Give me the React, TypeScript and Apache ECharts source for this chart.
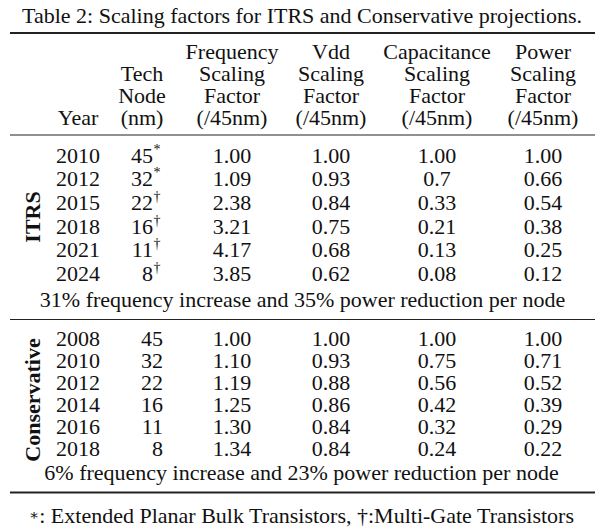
import React, { useEffect, useRef } from "react";
import * as echarts from "echarts";

const titleText = "Table 2: Scaling factors for ITRS and Conservative projections.";
const headerColumns = [
  ["Year"],
  ["Tech", "Node", "(nm)"],
  ["Frequency", "Scaling", "Factor", "(/45nm)"],
  ["Vdd", "Scaling", "Factor", "(/45nm)"],
  ["Capacitance", "Scaling", "Factor", "(/45nm)"],
  ["Power", "Scaling", "Factor", "(/45nm)"],
];

const itrsYears = ["2010", "2012", "2015", "2018", "2021", "2024"];
const itrsNodes = ["45", "32", "22", "16", "11", "8"];
const itrsMarks = ["*", "*", "†", "†", "†", "†"];
const itrsFreq = ["1.00", "1.09", "2.38", "3.21", "4.17", "3.85"];
const itrsVdd = ["1.00", "0.93", "0.84", "0.75", "0.68", "0.62"];
const itrsCap = ["1.00", "0.7", "0.33", "0.21", "0.13", "0.08"];
const itrsPow = ["1.00", "0.66", "0.54", "0.38", "0.25", "0.12"];
const itrsNote = "31% frequency increase and 35% power reduction per node";

const consYears = ["2008", "2010", "2012", "2014", "2016", "2018"];
const consNodes = ["45", "32", "22", "16", "11", "8"];
const consFreq = ["1.00", "1.10", "1.19", "1.25", "1.30", "1.34"];
const consVdd = ["1.00", "0.93", "0.88", "0.86", "0.84", "0.84"];
const consCap = ["1.00", "0.75", "0.56", "0.42", "0.32", "0.24"];
const consPow = ["1.00", "0.71", "0.52", "0.39", "0.29", "0.22"];
const consNote = "6% frequency increase and 23% power reduction per node";

const footnoteStar = "∗";
const footnoteRest = ": Extended Planar Bulk Transistors, †:Multi-Gate Transistors";

const FONT = "Liberation Serif";
const FS = 22;
const INK = "#111";

function txt(text: string, x: number, y: number, opts: any = {}) {
  return {
    type: "text",
    x,
    y,
    rotation: opts.rotation || 0,
    style: {
      text,
      x: 0,
      y: 0,
      fill: INK,
      fontFamily: FONT,
      fontSize: opts.fontSize || FS,
      fontWeight: opts.fontWeight || "normal",
      lineHeight: opts.lineHeight,
      textAlign: opts.align || "center",
      textVerticalAlign: "middle",
      verticalAlign: "middle",
      rich: opts.rich,
    },
  };
}

// A column of cells as one multi-line text block; centre of block at yMid
function block(lines: string[], x: number, firstY: number, step: number, opts: any = {}) {
  const yMid = firstY + ((lines.length - 1) * step) / 2;
  return txt(lines.join("\n"), x, yMid, { ...opts, lineHeight: step });
}

function hline(y: number, w: number) {
  return {
    type: "line",
    shape: { x1: 10, y1: y, x2: 595, y2: y },
    style: { stroke: "#222", lineWidth: w },
  };
}

export default function App() {
  const ref = useRef<HTMLDivElement>(null);
  useEffect(() => {
    document.body.style.margin = "0";
    const chart = echarts.init(ref.current!, null, { renderer: "svg" });
    const colX = [78, 142, 232, 331, 437, 543];
    const els: any[] = [];

    els.push(txt(titleText, 302, 15));
    els.push(hline(33, 2));

    const headerLastY = 117;
    const headerStep = 22;
    headerColumns.forEach((lines, c) => {
      const first = headerLastY - (lines.length - 1) * headerStep;
      els.push(block(lines, colX[c], first, headerStep));
    });
    els.push(hline(135, 1.2));

    const itrsTop = 155;
    const itrsStep = 23.7;
    els.push(block(itrsYears, colX[0], itrsTop, itrsStep));
    els.push(block(itrsNodes, 153, itrsTop, itrsStep, { align: "right" }));
    els.push(block(itrsMarks, 153.5, itrsTop - 6, itrsStep, { align: "left", fontSize: 14 }));
    els.push(block(itrsFreq, colX[2], itrsTop, itrsStep));
    els.push(block(itrsVdd, colX[3], itrsTop, itrsStep));
    els.push(block(itrsCap, colX[4], itrsTop, itrsStep));
    els.push(block(itrsPow, colX[5], itrsTop, itrsStep));
    els.push(txt("ITRS", 32, 217, { rotation: Math.PI / 2, fontWeight: "bold" }));
    els.push(txt(itrsNote, 302.5, 299.5));
    els.push(hline(319.5, 1.2));

    const consTop = 338;
    const consStep = 22;
    els.push(block(consYears, colX[0], consTop, consStep));
    els.push(block(consNodes, 163, consTop, consStep, { align: "right" }));
    els.push(block(consFreq, colX[2], consTop, consStep));
    els.push(block(consVdd, colX[3], consTop, consStep));
    els.push(block(consCap, colX[4], consTop, consStep));
    els.push(block(consPow, colX[5], consTop, consStep));
    els.push(txt("Conservative", 32, 400, { rotation: Math.PI / 2, fontWeight: "bold" }));
    els.push(txt(consNote, 301.5, 472.5));
    els.push(hline(492.5, 2));
    els.push(
      txt("{s|" + footnoteStar + "}{r|" + footnoteRest + "}", 301.5, 515, {
        rich: {
          s: { fontFamily: "DejaVu Serif", fontSize: 15, fontWeight: "normal", fill: INK },
          r: { fontFamily: FONT, fontSize: FS, fill: INK },
        },
      })
    );

    chart.setOption({
      animation: false,
      backgroundColor: "#fff",
      graphic: { elements: els },
    });
    return () => chart.dispose();
  }, []);
  return <div ref={ref} style={{ width: 605, height: 531 }} />;
}
